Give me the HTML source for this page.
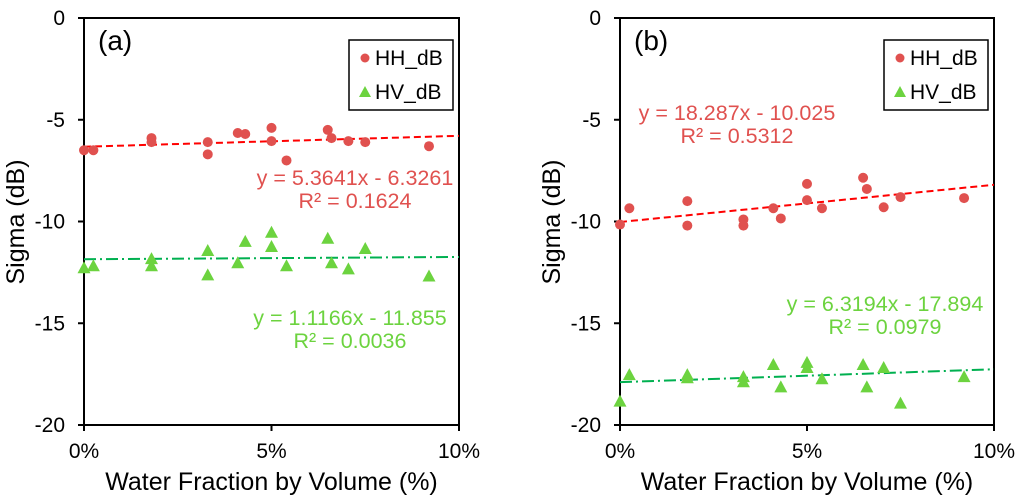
<!DOCTYPE html>
<html><head><meta charset="utf-8"><style>
body{margin:0;background:#fff}
svg{display:block;font-family:"Liberation Sans",Arial,sans-serif}
</style></head><body>
<svg id="c" width="1024" height="504"></svg>
<script>
const xs=[0,0.25,1.8,1.8,3.3,3.3,4.1,4.3,5.0,5.0,5.4,6.5,6.6,7.05,7.5,9.2];
const hhA=[-6.5,-6.5,-5.9,-6.1,-6.1,-6.7,-5.65,-5.7,-5.4,-6.05,-7.0,-5.5,-5.9,-6.05,-6.1,-6.3];
const hvA=[-12.3,-12.2,-11.85,-12.2,-11.45,-12.65,-12.05,-11.0,-10.55,-11.25,-12.2,-10.85,-12.05,-12.35,-11.35,-12.7];
const hhB=[-10.15,-9.35,-9.0,-10.2,-9.9,-10.2,-9.35,-9.85,-8.15,-8.95,-9.35,-7.85,-8.4,-9.3,-8.8,-8.85];
const hvB=[-18.85,-17.55,-17.55,-17.7,-17.65,-17.9,-17.05,-18.15,-16.95,-17.2,-17.75,-17.05,-18.15,-17.2,-18.95,-17.65];
const yTicks=[0,-5,-10,-15,-20];
const xTicks=[0,5,10];
const xTickLabels=["0%","5%","10%"];
const fitA=[[5.3641,-6.3261],[1.1166,-11.855]];
const fitB=[[18.287,-10.025],[6.3194,-17.894]];
const eqA=[["y = 5.3641x - 6.3261","R² = 0.1624"],["y = 1.1166x - 11.855","R² = 0.0036"]];
const eqB=[["y = 18.287x - 10.025","R² = 0.5312"],["y = 6.3194x - 17.894","R² = 0.0979"]];
const svg=document.getElementById('c');
const NS='http://www.w3.org/2000/svg';
function mk(t,a,txt){const e=document.createElementNS(NS,t);for(const k in a)e.setAttribute(k,a[k]);if(txt!=null)e.textContent=txt;svg.appendChild(e);return e;}
function panel(L,R,label,hh,hv,fit,eq,eqPos,id){
  const T=18,B=425;
  const X=v=>L+(v/10)*(R-L), Y=v=>T+(v/-20)*(B-T);
  let e=mk('rect',{x:L,y:T,width:R-L,height:B-T,fill:'none',stroke:'#000','stroke-width':2});
  
  yTicks.forEach(v=>{
    e=mk('line',{x1:L-6,x2:L,y1:Y(v),y2:Y(v),stroke:'#000','stroke-width':2});
    
    e=mk('text',{x:L-19,y:Y(v)+7,'text-anchor':'end','font-size':21},String(v));
    
  });
  xTicks.forEach((v,i)=>{
    e=mk('line',{x1:X(v),x2:X(v),y1:B,y2:B+6,stroke:'#000','stroke-width':2});
    
    e=mk('text',{x:X(v),y:458,'text-anchor':'middle','font-size':21},xTickLabels[i]);
    
  });
  e=mk('text',{x:(L+R)/2,y:490,'text-anchor':'middle','font-size':25},'Water Fraction by Volume (%)');
  
  const yx=L-60;
  e=mk('text',{x:yx,y:222,'text-anchor':'middle','font-size':25,transform:`rotate(-90 ${yx} 222)`},'Sigma (dB)');
  
  e=mk('text',{x:L+14,y:50,'font-size':28},label);
  
  e=mk('line',{x1:X(0),y1:Y(fit[0][1]),x2:X(10),y2:Y(fit[0][0]*0.1+fit[0][1]),stroke:'#ff0000','stroke-width':2,'stroke-dasharray':'7,4'});
  
  e=mk('line',{x1:X(0),y1:Y(fit[1][1]),x2:X(10),y2:Y(fit[1][0]*0.1+fit[1][1]),stroke:'#00b050','stroke-width':2,'stroke-dasharray':'12,4,2,4'});
  
  xs.forEach((x,i)=>{
    e=mk('circle',{cx:X(x),cy:Y(hh[i]),r:5,fill:'#e0514f'});
    
    const cx=X(x),cy=Y(hv[i]);
    e=mk('polygon',{points:`${cx},${cy-7} ${cx-6.5},${cy+5} ${cx+6.5},${cy+5}`,fill:'#6cd33f'});
    
  });
  const cols=['#e0514f','#6cd33f'];
  eq.forEach((q,j)=>{
    const p=eqPos[j];
    e=mk('text',{x:p[0],y:p[1],'text-anchor':'middle','font-size':21.5,fill:cols[j]},q[0]);
    
    e=mk('text',{x:p[0],y:p[1]+23,'text-anchor':'middle','font-size':21.5,fill:cols[j]},q[1]);
    
  });
  const lx=R-110;
  e=mk('rect',{x:lx,y:40,width:104,height:70,fill:'#fff',stroke:'#000','stroke-width':1.5});
  
  e=mk('circle',{cx:lx+16,cy:58,r:4.5,fill:'#e0514f'});
  
  e=mk('text',{x:lx+26,y:65,'font-size':21},'HH_dB');
  
  e=mk('polygon',{points:`${lx+16},${86} ${lx+10},${97} ${lx+22},${97}`,fill:'#6cd33f'});
  
  e=mk('text',{x:lx+26,y:99,'font-size':21},'HV_dB');
  
}
panel(84,459,'(a)',hhA,hvA,fitA,eqA,[[355,185],[350,325]],'panel-a');
panel(620,994,'(b)',hhB,hvB,fitB,eqB,[[737,120],[885,311]],'panel-b');
</script>
</body></html>
